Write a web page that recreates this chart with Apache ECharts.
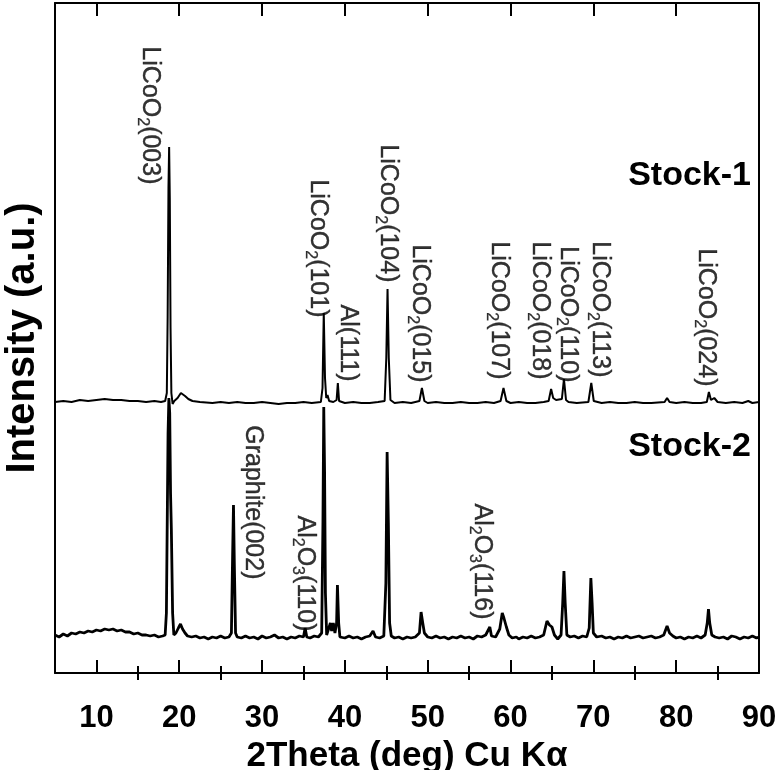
<!DOCTYPE html>
<html>
<head>
<meta charset="utf-8">
<script src="https://cdn.jsdelivr.net/npm/echarts@6/dist/echarts.min.js"></script>
<style>
  html, body { margin: 0; padding: 0; background: #fff; }
  #chart { width: 778px; height: 770px; }
</style>
</head>
<body>
<div id="chart"></div>
<script>
    // x axis ticks (2theta, deg)
    const majorTicks = [10, 20, 30, 40, 50, 60, 70, 80, 90];
    const minorTicks = [15, 25, 35, 45, 55, 65, 75, 85];

    // vertical offset applied to Stock-1 so it sits above Stock-2
    const stock1Offset = 235;

    // Stock-1 pattern [2theta, intensity a.u.]
    const stock1 = [
        [5.0, 36], [6, 37], [7, 36], [8, 38], [9, 37], [10, 38], [11, 39], [12, 38], [13, 38], [14, 37],
        [15, 37], [16, 36], [17, 37], [17.8, 36], [18.3, 37], [18.5, 45], [18.6, 120], [18.7, 250],
        [18.78, 291], [18.86, 240], [18.95, 110], [19.05, 45], [19.2, 34], [19.4, 37], [19.8, 40],
        [20.2, 45], [20.4, 46], [20.7, 42], [21.1, 39], [21.6, 37], [22.5, 36], [24, 35], [25, 36],
        [26, 35], [27, 36], [28, 35], [29, 35], [30, 36], [31, 35], [32, 34], [33, 35], [34, 35],
        [35, 36], [36, 35], [37.1, 36], [37.3, 50], [37.45, 125], [37.6, 60], [37.75, 40], [37.9, 43],
        [38.1, 37], [38.6, 36], [39.0, 38], [39.15, 55], [39.3, 37], [40, 35], [41, 36], [42, 35],
        [43, 35], [44, 36], [44.8, 37], [45.0, 80], [45.15, 149], [45.3, 80], [45.5, 38], [46, 35],
        [47, 36], [48, 35], [49.0, 37], [49.3, 50], [49.6, 37], [50, 35], [51, 36], [52, 35], [53, 35],
        [54, 36], [55, 35], [56, 35], [57, 36], [58, 35], [58.8, 37], [59.15, 50], [59.5, 37], [60, 35],
        [61, 36], [62, 35], [63, 35], [64, 36], [64.6, 37], [64.9, 49], [65.15, 40], [65.5, 38],
        [66.2, 39], [66.45, 59], [66.7, 38], [67, 36], [68, 35], [69.4, 36], [69.75, 55], [70.05, 37],
        [71, 35], [72, 36], [73, 35], [74, 35], [75, 36], [76, 35], [77, 35], [78.6, 36], [78.9, 40],
        [79.2, 36], [80, 35], [81, 36], [82, 35], [83, 35], [83.7, 36], [83.95, 46], [84.2, 38],
        [84.6, 40], [85, 36], [86, 35], [87, 36], [88, 35], [88.7, 37], [89.2, 35], [90, 36]
    ];

    // Stock-2 pattern [2theta, intensity a.u.]
    const stock2 = [
        [5.0, 38], [5.5, 36], [6, 39], [6.5, 37], [7, 40], [7.5, 39], [8, 41], [8.5, 40], [9, 42],
        [9.5, 41], [10, 43], [10.5, 42], [11, 44], [11.5, 43], [12, 44], [12.5, 42], [13, 43],
        [13.5, 41], [14, 41], [14.5, 39], [15, 40], [15.5, 38], [16, 38], [16.5, 37], [17, 38],
        [17.5, 36], [18, 37], [18.3, 38], [18.45, 60], [18.55, 150], [18.65, 240], [18.75, 275],
        [18.85, 260], [18.95, 180], [19.05, 143], [19.12, 143], [19.2, 60], [19.35, 38], [19.6, 40],
        [19.9, 45], [20.15, 49], [20.4, 44], [20.7, 40], [21, 37], [21.5, 36], [22, 37], [22.5, 35],
        [23, 36], [23.5, 34], [24, 36], [24.5, 35], [25, 37], [25.5, 35], [26, 36], [26.3, 40],
        [26.45, 120], [26.55, 168], [26.65, 110], [26.8, 40], [27, 36], [27.5, 35], [28, 37],
        [28.5, 35], [29, 36], [29.5, 34], [30, 37], [30.5, 35], [31, 36], [31.5, 38], [32, 35],
        [32.5, 36], [33, 34], [33.5, 36], [34, 35], [34.5, 37], [35.0, 36], [35.2, 45], [35.4, 36],
        [35.8, 35], [36.3, 37], [36.8, 36], [37.2, 40], [37.35, 150], [37.45, 266], [37.55, 200],
        [37.65, 80], [37.8, 38], [38.0, 37], [38.25, 50], [38.4, 42], [38.6, 50], [38.8, 40],
        [39.0, 50], [39.1, 88], [39.25, 50], [39.4, 36], [40, 35], [40.5, 37], [41, 35], [41.5, 36],
        [42, 34], [42.5, 36], [43, 37], [43.4, 42], [43.7, 36], [44.2, 35], [44.7, 37], [44.95, 90],
        [45.1, 221], [45.25, 150], [45.4, 50], [45.6, 37], [46, 35], [46.5, 36], [47, 34], [47.5, 36],
        [48, 35], [48.5, 36], [49.0, 40], [49.2, 61], [49.4, 50], [49.6, 40], [50, 36], [50.5, 35],
        [51, 37], [51.5, 35], [52, 36], [52.5, 34], [53, 36], [53.5, 35], [54, 37], [54.5, 35],
        [55, 36], [55.5, 34], [56, 37], [56.5, 36], [57, 38], [57.5, 46], [57.7, 37], [58.2, 36],
        [58.7, 44], [59.0, 60], [59.2, 55], [59.5, 46], [59.8, 38], [60.2, 35], [60.7, 36], [61, 34],
        [61.5, 36], [62, 35], [62.5, 37], [63, 35], [63.5, 36], [64.0, 38], [64.4, 52], [64.7, 48],
        [65.0, 46], [65.3, 38], [65.7, 34], [66.1, 38], [66.3, 70], [66.45, 102], [66.6, 70],
        [66.8, 38], [67.2, 36], [67.7, 37], [68.2, 35], [68.7, 37], [69.2, 36], [69.5, 45],
        [69.7, 95], [69.85, 70], [70.0, 40], [70.4, 36], [71, 37], [71.5, 35], [72, 36], [72.5, 34],
        [73, 36], [73.5, 35], [74, 37], [74.5, 35], [75, 36], [75.5, 37], [76, 35], [76.5, 36],
        [77, 37], [77.5, 35], [78, 36], [78.5, 38], [78.9, 47], [79.2, 40], [79.6, 37], [80, 35],
        [80.5, 36], [81, 34], [81.5, 36], [82, 35], [82.5, 37], [83, 35], [83.5, 38], [83.75, 50],
        [83.9, 64], [84.05, 50], [84.3, 38], [84.7, 36], [85.2, 35], [85.7, 36], [86.2, 34],
        [86.7, 37], [86.9, 39], [87.2, 36], [87.7, 34], [88.2, 36], [88.7, 35], [89.2, 37],
        [89.7, 35], [90, 36]
    ];

    // peak labels: text ("_n" = subscript), 2theta of label, intensity where the label ends
    const peakNames = [
        'LiCoO_2(003)', 'LiCoO_2(101)', 'Al(111)', 'LiCoO_2(104)', 'LiCoO_2(015)', 'LiCoO_2(107)',
        'LiCoO_2(018)', 'LiCoO_2(110)', 'LiCoO_2(113)', 'LiCoO_2(024)',
        'Graphite(002)', 'Al_2O_3(110)', 'Al_2O_3(116)'
    ];
    const peakTheta = [16.5, 36.8, 40.4, 45.2, 49.1, 58.6, 63.6, 67.0, 70.8, 83.7, 28.9, 35.2, 56.6];
    const peakLabelY = [488, 355, 291, 390, 290, 293, 293, 290, 295, 286, 93, 41, 53];

    const font = "'Liberation Sans', Arial, sans-serif";
    const chart = echarts.init(document.getElementById('chart'));

    function richName(s) {
        return '{m|' + s.replace(/_(\d)/g, '}{s|$1}{m|') + '}';
    }

    const tickAxis = (pos, values, len) => ({
        type: 'value', min: 5, max: 90, position: pos, interval: 5,
        axisLine: {show: false},
        axisTick: {show: true, inside: true, length: len, customValues: values, lineStyle: {color: '#000', width: 2}},
        axisLabel: {show: false},
        splitLine: {show: false}
    });

    chart.setOption({
        animation: false,
        grid: {left: 55, right: 19, top: 3, bottom: 97, containLabel: false, outerBoundsMode: 'none'},
        xAxis: [
            {
                type: 'value', min: 5, max: 90, position: 'bottom', interval: 5,
                name: '2Theta (deg) Cu K\u03b1', nameLocation: 'middle', nameGap: 59,
                nameTextStyle: {fontFamily: font, fontWeight: 'bold', fontSize: 35, color: '#000'},
                axisLine: {show: true, onZero: false, lineStyle: {color: '#000', width: 2}},
                axisTick: {show: true, inside: true, length: 13, customValues: majorTicks, lineStyle: {color: '#000', width: 2}},
                axisLabel: {show: true, customValues: majorTicks, margin: 30, color: '#000',
                    fontFamily: font, fontWeight: 'bold', fontSize: 31},
                splitLine: {show: false}
            },
            {
                type: 'value', min: 5, max: 90, position: 'top', interval: 5,
                axisLine: {show: true, onZero: false, lineStyle: {color: '#000', width: 2}},
                axisTick: {show: true, inside: true, length: 13, customValues: majorTicks, lineStyle: {color: '#000', width: 2}},
                axisLabel: {show: false},
                splitLine: {show: false}
            },
            tickAxis('bottom', minorTicks, 7),
            tickAxis('top', minorTicks, 7)
        ],
        yAxis: [
            {
                type: 'value', min: 0, max: 670, position: 'left',
                name: 'Intensity (a.u.)', nameLocation: 'middle', nameGap: 12,
                nameTextStyle: {fontFamily: font, fontWeight: 'bold', fontSize: 40, color: '#000'},
                axisLine: {show: true, lineStyle: {color: '#000', width: 2}},
                axisTick: {show: false}, axisLabel: {show: false}, splitLine: {show: false}
            },
            {
                type: 'value', min: 0, max: 670, position: 'right',
                axisLine: {show: true, lineStyle: {color: '#000', width: 2}},
                axisTick: {show: false}, axisLabel: {show: false}, splitLine: {show: false}
            }
        ],
        series: [
            {
                name: 'Stock-2', type: 'line', showSymbol: false, symbol: 'none',
                data: stock2,
                lineStyle: {color: '#000', width: 2.8}
            },
            {
                name: 'Stock-1', type: 'line', showSymbol: false, symbol: 'none',
                data: stock1.map(p => [p[0], p[1] + stock1Offset]),
                lineStyle: {color: '#000', width: 2}
            },
            {
                name: 'labels', type: 'scatter', silent: true, symbolSize: 1,
                itemStyle: {color: 'rgba(0,0,0,0)'},
                data: peakNames.map((n, i) => ({name: n, value: [peakTheta[i], peakLabelY[i]]})),
                label: {
                    show: true, position: [0, 0], rotate: -90, align: 'right', verticalAlign: 'middle',
                    formatter: p => richName(p.name),
                    rich: {
                        m: {fontFamily: font, fontSize: 25, color: '#000', lineHeight: 30, textBorderWidth: 0.4, textBorderColor: '#000'},
                        s: {fontFamily: font, fontSize: 16, color: '#000', lineHeight: 16, verticalAlign: 'bottom', textBorderWidth: 0.3, textBorderColor: '#000'}
                    }
                }
            }
        ],
        graphic: [
            {type: 'text', x: 751, y: 176, style: {text: 'Stock-1', font: 'bold 34px ' + font, fill: '#000', align: 'right', verticalAlign: 'middle'}},
            {type: 'text', x: 751, y: 447, style: {text: 'Stock-2', font: 'bold 34px ' + font, fill: '#000', align: 'right', verticalAlign: 'middle'}}
        ]
    });
</script>
</body>
</html>
